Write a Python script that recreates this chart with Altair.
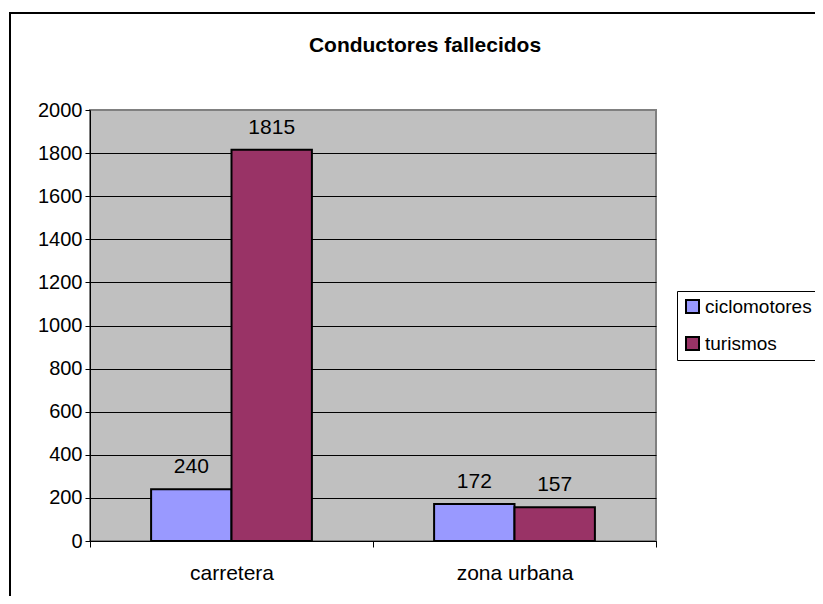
import altair as alt
import pandas as pd

categories = ["carretera", "zona urbana"]
series = ["ciclomotores", "turismos"]
ciclomotores = [240, 172]
turismos = [1815, 157]
colors = ["#9999FF", "#993366"]
y_ticks = list(range(0, 2001, 200))
title_text = "Conductores fallecidos"

rows = []
for i, c in enumerate(categories):
    rows.append({"zona": c, "tipo": series[0], "valor": ciclomotores[i]})
    rows.append({"zona": c, "tipo": series[1], "valor": turismos[i]})
df = pd.DataFrame(rows)

FONT = "Liberation Sans"
W, H = 566, 431

x_enc = alt.X(
    "zona:N",
    sort=categories,
    scale=alt.Scale(paddingInner=0, paddingOuter=0),
    axis=alt.Axis(
        title=None, labelAngle=0, labelFont=FONT, labelFontSize=21,
        labelColor="black", domainColor="black", domainWidth=1,
        tickColor="black", tickSize=6, tickBand="extent",
        labelPadding=15, grid=False,
    ),
)
xoff_enc = alt.XOffset(
    "tipo:N", sort=series,
    scale=alt.Scale(paddingInner=0, paddingOuter=0.76),
)
y_enc = alt.Y(
    "valor:Q",
    scale=alt.Scale(domain=[0, 2000], nice=False),
    axis=alt.Axis(
        title=None, values=y_ticks, format="d", labelFont=FONT, labelFontSize=20,
        labelColor="black", domainColor="black", domainWidth=1,
        tickColor="black", tickSize=5, labelPadding=3,
        grid=True,
        gridColor={"condition": {"test": "datum.value === 2000", "value": "#808080"}, "value": "black"},
        gridWidth=1, gridOpacity=1,
    ),
)

base = alt.Chart(df)

bars = base.mark_bar(stroke="black", strokeWidth=2, opacity=1).encode(
    x=x_enc,
    xOffset=xoff_enc,
    y=y_enc,
    color=alt.Color(
        "tipo:N",
        sort=series,
        scale=alt.Scale(domain=series, range=colors),
        legend=alt.Legend(
            title=None, orient="none", legendX=587, legendY=181,
            strokeColor="black", fillColor="white", padding=6,
            symbolType="square", symbolSize=169, symbolStrokeColor="black",
            symbolStrokeWidth=2, symbolOpacity=1, labelFont=FONT,
            labelFontSize=19, labelColor="black", labelOffset=3, rowPadding=16,
        ),
    ),
)

labels = base.mark_text(
    baseline="alphabetic", align="center", dy=-16, font=FONT, fontSize=21, color="black"
).encode(
    x=alt.X("zona:N", sort=categories),
    xOffset=alt.XOffset("tipo:N", sort=series),
    y="valor:Q",
    text="valor:Q",
)

one = alt.Data(values=[{"t": title_text}])
title = alt.Chart(one).mark_text(
    font=FONT, fontSize=21, fontWeight="bold", align="center", baseline="alphabetic", color="black"
).encode(x=alt.value(335), y=alt.value(-58), text="t:N")

border_left = alt.Chart(one).mark_rule(color="black", strokeWidth=2).encode(
    x=alt.value(-80), y=alt.value(-97), y2=alt.value(H + 200)
)
border_top = alt.Chart(one).mark_rule(color="black", strokeWidth=2).encode(
    x=alt.value(-81), x2=alt.value(W + 300), y=alt.value(-97)
)

chart = alt.layer(bars, labels, title, border_left, border_top).properties(
    width=W, height=H,
    autosize=alt.AutoSizeParams(type="none"),
    padding={"left": 82, "top": 102, "right": 159, "bottom": 55},
    background="white",
).configure_view(
    fill="#C0C0C0", stroke="#808080", strokeWidth=2
)

chart.save("out.html", embed_options={"renderer": "svg", "actions": False})
